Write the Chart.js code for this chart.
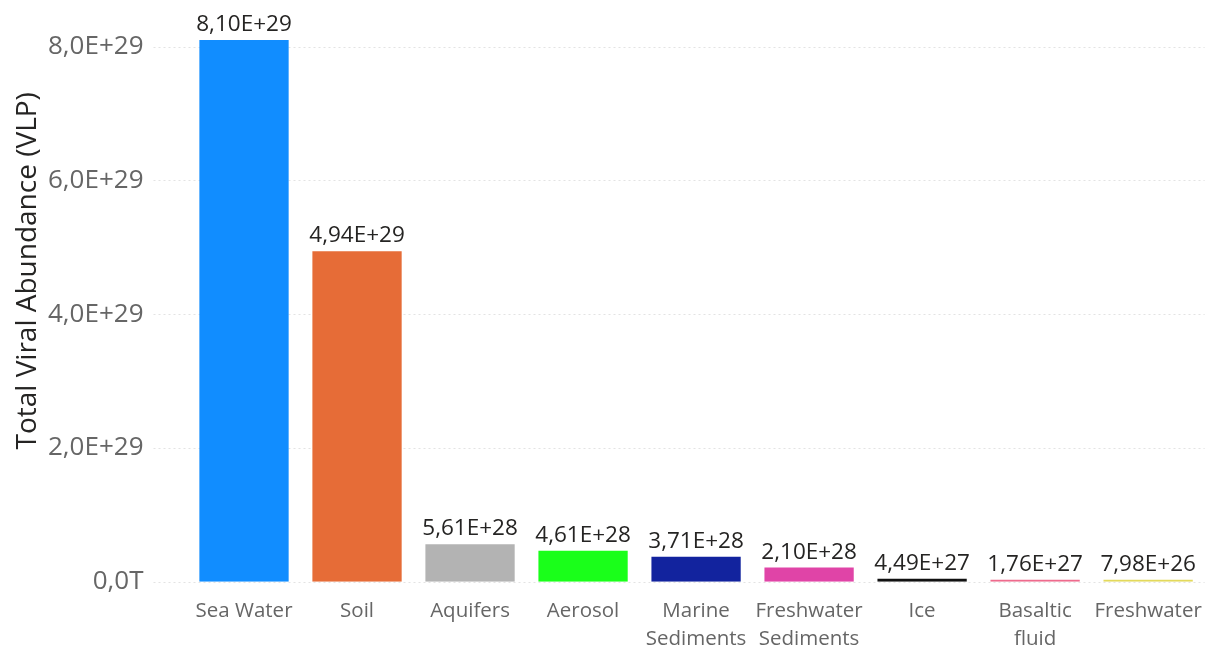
<!DOCTYPE html>
<html>
<head>
<meta charset="utf-8">
<script src="https://cdn.jsdelivr.net/npm/chart.js@4.4.1/dist/chart.umd.min.js"></script>
<style>
  html, body { margin: 0; padding: 0; background: #fff; }
  #wrap { width: 1210px; height: 651px; position: relative; }
</style>
</head>
<body>
<div id="wrap"><canvas id="abundanceChart"></canvas></div>
<script>
// habitats and their total viral abundance (virus-like particles)
const habitats = [
  'Sea Water', 'Soil', 'Aquifers', 'Aerosol', ['Marine', 'Sediments'],
  ['Freshwater', 'Sediments'], 'Ice', ['Basaltic', 'fluid'], 'Freshwater'
];
const abundance = [8.10e29, 4.94e29, 5.61e28, 4.61e28, 3.71e28, 2.10e28, 4.49e27, 1.76e27, 7.98e26];
const barColors = ['#118DFF', '#E66C37', '#B3B3B3', '#1AFF1A', '#12239E', '#E044A7', '#111111', '#EE6B8D', '#E3D95C'];
const yTicks = [0, 2e29, 4e29, 6e29, 8e29];
const yTitle = 'Total Viral Abundance (VLP)';

const FONT = '"Open Sans", "Noto Sans", sans-serif';

// 8.1e29 -> "8,10E+29"
function sci(v, digits) {
  return v.toExponential(digits).replace('.', ',').replace('e', 'E');
}

// dotted horizontal guides, starting a little left of the plot area
const dottedGrid = {
  id: 'dottedGrid',
  beforeDatasetsDraw(chart) {
    const { ctx, chartArea, scales } = chart;
    ctx.save();
    ctx.strokeStyle = '#e3e3e3';
    ctx.lineWidth = 1;
    ctx.setLineDash([2, 3]);
    yTicks.forEach(t => {
      const y = Math.round(scales.y.getPixelForValue(t)) + 0.5;
      ctx.beginPath();
      ctx.moveTo(chartArea.left - 34, y);
      ctx.lineTo(chartArea.right, y);
      ctx.stroke();
    });
    ctx.restore();
  }
};

// value labels above each bar + the rotated axis title
const valueLabels = {
  id: 'valueLabels',
  afterDatasetsDraw(chart) {
    const { ctx, chartArea } = chart;
    const meta = chart.getDatasetMeta(0);
    ctx.save();
    ctx.font = '22.5px ' + FONT;
    ctx.fillStyle = '#252423';
    ctx.textAlign = 'center';
    ctx.textBaseline = 'alphabetic';
    meta.data.forEach((bar, i) => {
      ctx.fillText(sci(abundance[i], 2), bar.x, bar.y - 9);
    });

    ctx.translate(28, (chartArea.top + chartArea.bottom) / 2 - 30);
    ctx.rotate(-Math.PI / 2);
    ctx.font = '28px ' + FONT;
    ctx.textBaseline = 'middle';
    ctx.fillText(yTitle, 0, 0);
    ctx.restore();
  }
};

new Chart(document.getElementById('abundanceChart'), {
  type: 'bar',
  data: {
    labels: habitats,
    datasets: [{
      data: abundance,
      backgroundColor: barColors,
      borderWidth: 0,
      categoryPercentage: 1,
      barPercentage: 0.79,
      minBarLength: 2
    }]
  },
  options: {
    responsive: true,
    maintainAspectRatio: false,
    animation: false,
    layout: { padding: { top: 20, right: 4, left: 44, bottom: -10 } },
    plugins: {
      legend: { display: false },
      tooltip: { enabled: false }
    },
    scales: {
      x: {
        grid: { display: false },
        border: { display: false },
        ticks: {
          color: '#666666',
          font: { family: FONT, size: 20.5, lineHeight: 1.35 },
          maxRotation: 0,
          autoSkip: false,
          padding: 8
        }
      },
      y: {
        min: 0,
        max: 8.4e29,
        afterBuildTicks(scale) {
          scale.ticks = yTicks.map(v => ({ value: v }));
        },
        grid: { display: false, drawTicks: true, tickLength: 40 },
        border: { display: false },
        ticks: {
          color: '#666666',
          font: { family: FONT, size: 26 },
          padding: 4,
          callback: v => v === 0 ? '0,0T' : sci(v, 1)
        }
      }
    }
  },
  plugins: [dottedGrid, valueLabels]
});
</script>
</body>
</html>
